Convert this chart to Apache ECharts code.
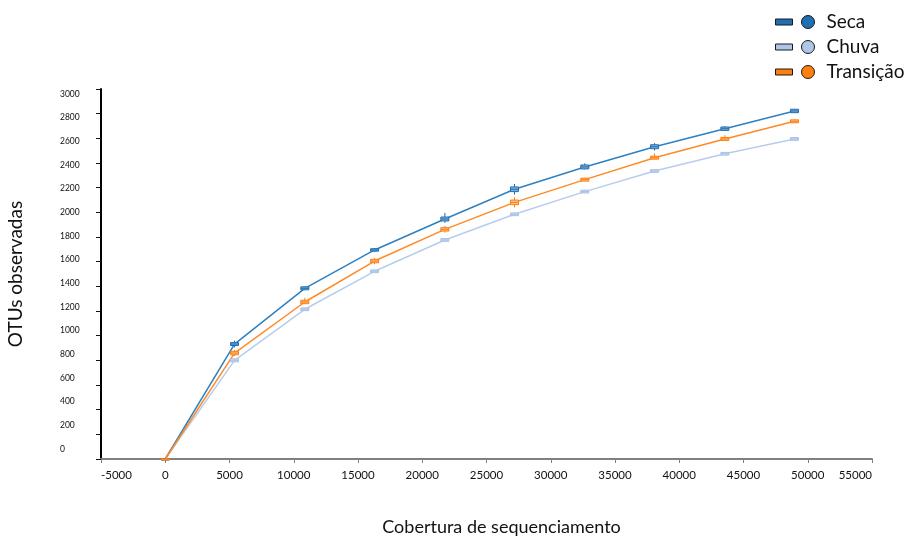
<!DOCTYPE html>
<html>
<head>
<meta charset="utf-8">
<script src="https://cdn.jsdelivr.net/npm/echarts@6/dist/echarts.min.js"></script>
<style>
  html, body { margin: 0; padding: 0; background: #fff; }
  #chart { width: 908px; height: 538px; }
</style>
</head>
<body>
<div id="chart"></div>
<script>
// Sequencing depth (reads) at which each rarefaction point was taken
const depth = [0, 5390, 10860, 16290, 21760, 27180, 32650, 38080, 43550, 48970];

// Observed OTUs per season: [min, q1, median, q3, max] at each depth
const secaStats = [
  [0, 0, 0, 0, 0],
  [905, 920, 932, 944, 960],
  [1370, 1372, 1384, 1396, 1400],
  [1680, 1685, 1695, 1705, 1710],
  [1915, 1930, 1946, 1962, 1995],
  [2145, 2168, 2187, 2206, 2230],
  [2348, 2352, 2368, 2384, 2398],
  [2500, 2516, 2532, 2548, 2562],
  [2663, 2664, 2678, 2692, 2698],
  [2807, 2808, 2822, 2836, 2837]
];
const chuvaStats = [
  [0, 0, 0, 0, 0],
  [785, 788, 800, 812, 815],
  [1200, 1203, 1214, 1225, 1228],
  [1508, 1511, 1522, 1533, 1536],
  [1762, 1765, 1776, 1787, 1790],
  [1970, 1973, 1984, 1995, 1998],
  [2154, 2157, 2168, 2179, 2182],
  [2321, 2324, 2335, 2346, 2349],
  [2461, 2464, 2475, 2486, 2489],
  [2581, 2584, 2595, 2606, 2609]
];
const transicaoStats = [
  [0, 0, 0, 0, 0],
  [835, 845, 859, 873, 884],
  [1258, 1259, 1273, 1287, 1308],
  [1580, 1591, 1605, 1619, 1630],
  [1835, 1848, 1862, 1876, 1890],
  [2040, 2062, 2081, 2100, 2122],
  [2252, 2253, 2265, 2277, 2280],
  [2430, 2431, 2443, 2455, 2478],
  [2582, 2583, 2595, 2607, 2625],
  [2725, 2726, 2738, 2750, 2752]
];

const seasonNames = ['Seca', 'Chuva', 'Transição'];
const yTicks = { min: 0, max: 3000, step: 200 };
const xTicks = { min: -5000, max: 55000, step: 5000 };

const palette = {
  'Seca':      { key: '#1f6fb2', line: '#2f80c0', box: '#7fb0dc', edge: '#1f6fb2' },
  'Chuva':     { key: '#aec7e8', line: '#b7cdeb', box: '#c9daf0', edge: '#a9c2e6' },
  'Transição': { key: '#ff7f0e', line: '#ff8a24', box: '#ffc08f', edge: '#ff7f0e' }
};

const statsBySeason = { 'Seca': secaStats, 'Chuva': chuvaStats, 'Transição': transicaoStats };
const FONT = 'Lato';
const plain = function (v) { return String(v); };

function boxRenderer(name) {
  const c = palette[name];
  return function (params, api) {
    const x = api.value(0);
    const lo = api.coord([x, api.value(1)]);
    const q1 = api.coord([x, api.value(2)]);
    const md = api.coord([x, api.value(3)]);
    const q3 = api.coord([x, api.value(4)]);
    const hi = api.coord([x, api.value(5)]);
    const w = 8;
    const top = Math.min(q1[1], q3[1]);
    const h = Math.max(Math.abs(q1[1] - q3[1]), 1);
    return {
      type: 'group',
      children: [
        { type: 'line', shape: { x1: lo[0], y1: lo[1], x2: hi[0], y2: hi[1] },
          style: { stroke: c.edge, lineWidth: 1 } },
        { type: 'rect', shape: { x: md[0] - w / 2, y: top, width: w, height: h },
          style: { fill: c.box, stroke: c.edge, lineWidth: 1 } },
        { type: 'line', shape: { x1: md[0] - w / 2, y1: md[1], x2: md[0] + w / 2, y2: md[1] },
          style: { stroke: c.edge, lineWidth: 1 } }
      ]
    };
  };
}

const series = [];
// lines first so that legend colours come from them
['Chuva', 'Seca', 'Transição'].forEach(function (name) {
  const stats = statsBySeason[name];
  series.push({
    name: name,
    type: 'line',
    data: depth.map(function (d, i) { return [d, stats[i][2]]; }),
    showSymbol: false,
    symbol: 'none',
    itemStyle: { color: palette[name].key },
    lineStyle: { color: palette[name].line, width: 1.5 },
    z: 2
  });
});
['Chuva', 'Seca', 'Transição'].forEach(function (name) {
  const stats = statsBySeason[name];
  series.push({
    name: name,
    type: 'custom',
    renderItem: boxRenderer(name),
    encode: { x: 0, y: [1, 2, 3, 4, 5] },
    data: depth.map(function (d, i) { return [d].concat(stats[i]); }),
    itemStyle: { color: palette[name].key },
    z: 3
  });
});

const legendRows = {
  orient: 'vertical',
  top: 12,
  padding: 0,
  itemGap: 5,
  selectedMode: false,
  data: seasonNames,
  itemStyle: { borderColor: '#1a1a1a', borderWidth: 1 },
  textStyle: { fontFamily: FONT, fontSize: 19, color: '#111', lineHeight: 20 }
};

const option = {
  animation: false,
  backgroundColor: '#fff',
  grid: [
    { left: 101, right: 36, top: 89, bottom: 79, outerBoundsMode: 'none' },
    { left: 101, right: 36, top: 94, bottom: 89, outerBoundsMode: 'none' }
  ],
  legend: [
    Object.assign({}, legendRows, {
      left: 775, icon: 'rect', itemWidth: 17, itemHeight: 6,
      formatter: function () { return ' '; }
    }),
    Object.assign({}, legendRows, {
      left: 801, icon: 'circle', itemWidth: 13, itemHeight: 13,
      textStyle: Object.assign({}, legendRows.textStyle, { padding: [0, 0, 0, 7] })
    })
  ],
  xAxis: [
    {
      type: 'value', gridIndex: 0,
      min: xTicks.min, max: xTicks.max, interval: xTicks.step,
      name: 'Cobertura de sequenciamento',
      nameLocation: 'middle', nameGap: 59,
      nameTextStyle: { fontFamily: FONT, fontSize: 18, color: '#111', padding: [0, 0, 0, 30] },
      axisLine: { show: true, onZero: false, lineStyle: { color: '#808080', width: 2 } },
      axisTick: { show: true, length: 4, lineStyle: { color: '#808080', width: 1 } },
      axisLabel: { fontFamily: FONT, fontSize: 11.5, color: '#111', margin: 10,
                   formatter: plain, alignMinLabel: 'left', alignMaxLabel: 'right' },
      splitLine: { show: false }
    },
    { type: 'value', gridIndex: 1, min: xTicks.min, max: xTicks.max, show: false }
  ],
  yAxis: [
    {
      type: 'value', gridIndex: 0,
      min: yTicks.min, max: yTicks.max, interval: yTicks.step,
      name: 'OTUs observadas',
      nameLocation: 'middle', nameGap: 76, nameRotate: 90,
      nameTextStyle: { fontFamily: FONT, fontSize: 19, color: '#111' },
      axisLine: { show: true, onZero: false, lineStyle: { color: '#000000', width: 2 } },
      axisTick: { show: true, length: 5, lineStyle: { color: '#111', width: 1 } },
      axisLabel: { show: false },
      splitLine: { show: false }
    },
    {
      type: 'value', gridIndex: 1,
      min: yTicks.min, max: yTicks.max, interval: yTicks.step,
      axisLine: { show: false }, axisTick: { show: false }, splitLine: { show: false },
      axisLabel: { fontFamily: FONT, fontSize: 8.5, color: '#111', align: 'left', margin: 41,
                   formatter: plain }
    }
  ],
  series: series
};

const chart = echarts.init(document.getElementById('chart'), null, { renderer: 'canvas' });
chart.setOption(option);
</script>
</body>
</html>
